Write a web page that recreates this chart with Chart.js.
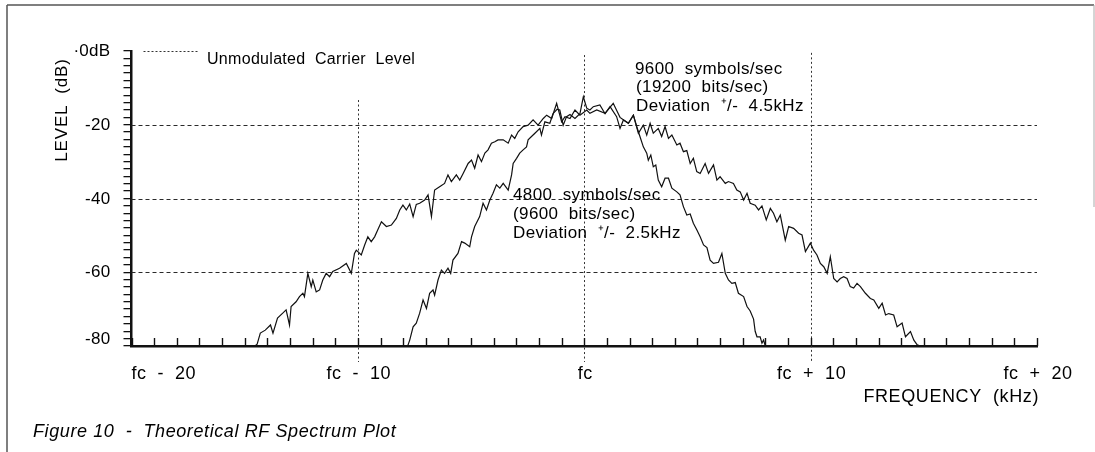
<!DOCTYPE html>
<html>
<head>
<meta charset="utf-8">
<script src="https://cdn.jsdelivr.net/npm/chart.js@4.4.1/dist/chart.umd.min.js"></script>
<style>
  html, body { margin: 0; padding: 0; background: #fff; }
  canvas { display: block; }
</style>
</head>
<body>
<canvas id="spectrum" width="1095" height="452"></canvas>
<script>
// axis ticks / labels
const FREQ_TICKS   = [-20, -10, 0, 10, 20];
const FREQ_LABELS  = ['fc  -  20', 'fc  -  10', 'fc', 'fc  +  10', 'fc  +  20'];
const LEVEL_TICKS  = [0, -20, -40, -60, -80];
const LEVEL_LABELS = ['·0dB', '-20', '-40', '-60', '-80'];
const GRID_LEVELS  = [-20, -40, -60];
const MARKER_FREQS = [-10, 0, 10];
const MARKER_TOPS  = [-13.3, -1.1, -0.5];   // dB level where each dotted marker starts

// 9600 symbols/sec, deviation +/- 4.5 kHz (offset from fc in kHz, level in dB)
const WIDE_FREQ = [
  -14.55, -14.45, -14.38, -14.31, -14.09, -13.86, -13.75, -13.55, -13.32, -13.17,
  -13.02, -12.95, -12.73, -12.58, -12.43, -12.36, -12.21, -12.06, -11.99, -11.84,
  -11.69, -11.55, -11.40, -11.25, -11.11, -10.81, -10.51, -10.29, -10.15, -10.07,
  -9.85, -9.70, -9.56, -9.41, -9.26, -9.12, -8.96, -8.74, -8.52, -8.30,
  -8.15, -8.01, -7.86, -7.71, -7.56, -7.42, -7.27, -7.05, -6.90, -6.75,
  -6.61, -6.39, -6.17, -6.02, -5.87, -5.65, -5.50, -5.35, -5.13, -4.98,
  -4.84, -4.69, -4.54, -4.39, -4.25, -4.10, -3.95, -3.81, -3.58, -3.36,
  -3.21, -3.07, -2.92, -2.70, -2.48, -2.26, -2.04, -1.81, -1.66, -1.44,
  -1.22, -1.00, -0.85, -0.63, -0.41, -0.19, 0.11, 0.25, 0.55, 0.92,
  1.28, 1.58, 1.95, 2.17, 2.39, 2.61, 2.76, 2.91, 3.05, 3.27,
  3.42, 3.57, 3.72, 3.87, 4.09, 4.23, 4.38, 4.53, 4.68, 4.82,
  4.97, 5.12, 5.34, 5.49, 5.71, 5.86, 6.00, 6.23, 6.37, 6.59,
  6.74, 6.89, 7.04, 7.19, 7.33, 7.55, 7.70, 7.85, 8.04, 8.22,
  8.36, 8.51, 8.66, 8.88, 9.03, 9.25, 9.47, 9.62, 9.77, 9.99,
  10.13, 10.28, 10.43, 10.58, 10.73, 10.87, 11.02, 11.17, 11.31, 11.46,
  11.61, 11.75, 11.90, 12.05, 12.20, 12.42, 12.64, 12.79, 13.01, 13.16,
  13.31, 13.45, 13.67, 13.82, 14.04, 14.19, 14.41, 14.56, 14.71, 14.85
];
const WIDE_LEVEL = [
  -80, -79.5, -78, -76.5, -75.7, -74.3, -76.5, -72.4, -71.1, -70.2,
  -74.3, -69.3, -68, -66.6, -65.7, -66.6, -60.3, -63.9, -62.1, -65.3,
  -64.8, -62.1, -60.3, -61.2, -59.8, -58.9, -57.6, -60.3, -54.9, -54,
  -55.3, -52.6, -50.4, -51.7, -50.4, -48.5, -46.3, -47.6, -47.2, -45.4,
  -43.1, -41.8, -43.1, -41.5, -44.9, -41.6, -41.3, -40.4, -39, -44.9,
  -37.7, -36.8, -35.9, -33.6, -35.4, -33.6, -35, -33.2, -30.5, -29.6,
  -31.8, -28.2, -30, -27.7, -26.8, -25, -24.6, -24.1, -24.1, -25,
  -22.8, -23.7, -21.9, -20.5, -20.1, -18.7, -20.1, -18.3, -17.4, -18.3,
  -14.2, -19.2, -17.8, -18.3, -16, -17.4, -16, -16.9, -16, -16.9,
  -14.2, -18, -19.6, -17.4, -22.3, -20.1, -22.8, -19.6, -22.3, -21,
  -23.2, -20.5, -23.7, -22.8, -25.5, -25, -27.3, -27, -30.5, -29.1,
  -32.7, -33.2, -30.5, -33.2, -30.9, -35, -34.1, -35.9, -35.4, -35.9,
  -37.7, -38.2, -40.4, -38.6, -41.3, -41.8, -43.1, -42, -45.8, -42.7,
  -44, -46.3, -44.5, -51.3, -47.6, -48.1, -49.4, -49.9, -54.4, -52.1,
  -54, -55.3, -57.6, -58.5, -60.3, -55.8, -61.7, -62.6, -61.7, -61.2,
  -61.7, -63.9, -64.3, -63, -63.9, -65.7, -67.1, -67.5, -69.8, -68.4,
  -71.6, -71.2, -71.6, -74.8, -73.8, -77.5, -76.1, -78.4, -79.7, -80
];

// 4800 symbols/sec, deviation +/- 2.5 kHz
const NARROW_FREQ = [
  -7.80, -7.71, -7.56, -7.42, -7.27, -7.12, -6.97, -6.83, -6.68, -6.61,
  -6.46, -6.31, -6.17, -6.02, -5.90, -5.80, -5.58, -5.42, -5.28, -5.06,
  -4.98, -4.84, -4.62, -4.47, -4.32, -4.17, -4.03, -3.88, -3.73, -3.58,
  -3.36, -3.21, -3.14, -2.99, -2.85, -2.70, -2.55, -2.48, -2.33, -2.18,
  -1.96, -1.89, -1.74, -1.52, -1.38, -1.20, -1.08, -0.93, -0.78, -0.63,
  -0.41, -0.19, -0.04, 0.11, 0.25, 0.40, 0.69, 0.92, 1.14, 1.43,
  1.58, 1.73, 1.95, 2.17, 2.32, 2.46, 2.61, 2.76, 2.83, 2.94,
  3.05, 3.16, 3.27, 3.42, 3.57, 3.72, 3.87, 4.09, 4.23, 4.38,
  4.53, 4.68, 4.82, 4.97, 5.12, 5.27, 5.42, 5.56, 5.71, 5.93,
  6.08, 6.23, 6.37, 6.52, 6.67, 6.81, 7.04, 7.19, 7.33, 7.48,
  7.55, 7.63, 7.77, 7.85, 7.92, 8.00
];
const NARROW_LEVEL = [
  -80, -78.4, -74.8, -73.8, -71.1, -67.5, -69.8, -65.7, -64.8, -66.2,
  -62.1, -59.4, -60.3, -58.9, -60.3, -56.7, -54.9, -51.7, -52.1, -53.1,
  -50.4, -47.6, -44.9, -41.3, -43.1, -40.4, -38.6, -36.3, -37.2, -35.9,
  -37.7, -33.6, -30.5, -29.1, -27.7, -26.8, -26, -24.1, -23.2, -22.3,
  -21, -22.8, -19.2, -19.6, -17, -15.8, -16, -20.1, -17.8, -17.2,
  -18.3, -17, -12.4, -15.5, -16, -15.1, -14.6, -17, -15.1, -17.8,
  -21, -18.7, -19.6, -17.4, -20.5, -23.2, -26, -27.7, -29.6, -28.2,
  -31.4, -30.9, -35, -36.8, -34.5, -34.5, -37.2, -38.2, -39, -42.2,
  -44.5, -44.2, -46.7, -48.5, -50.4, -52.6, -53.3, -56.7, -57.6, -57.3,
  -54.9, -60.3, -62.1, -63, -62.8, -65.7, -66.6, -69.3, -70.5, -72.7,
  -76, -77.5, -77.5, -79.2, -78.4, -80
];

const INK  = '#111';
const FONT = "'Liberation Sans', Arial, Helvetica, sans-serif";

function toPoints(xs, ys) {
  return xs.map((x, i) => ({ x, y: ys[i] }));
}

function drawText(ctx, s, x, y, font, align, spacing) {
  ctx.save();
  ctx.font = font;
  ctx.textAlign = align || 'left';
  ctx.textBaseline = 'middle';
  if ('letterSpacing' in ctx) ctx.letterSpacing = (spacing || 0) + 'px';
  ctx.fillStyle = '#000';
  ctx.fillText(s, x, y);
  ctx.restore();
}

function line(ctx, x1, y1, x2, y2) {
  ctx.beginPath();
  ctx.moveTo(x1, y1);
  ctx.lineTo(x2, y2);
  ctx.stroke();
}

const figureDecor = {
  id: 'figureDecor',
  beforeDatasetsDraw(chart) {
    const { ctx, chartArea: a, scales: { x, y } } = chart;
    ctx.save();
    // page frame
    ctx.strokeStyle = '#555';
    ctx.lineWidth = 1.5;
    line(ctx, 7, 5, 1094, 5);
    line(ctx, 7, 5, 7, 452);
    ctx.strokeStyle = '#aaa';
    ctx.lineWidth = 1;
    line(ctx, 1094, 5, 1094, 207);

    // dashed level grid
    ctx.strokeStyle = '#2a2a2a';
    ctx.lineWidth = 1;
    ctx.setLineDash([4, 3]);
    GRID_LEVELS.forEach(v => {
      const py = Math.round(y.getPixelForValue(v)) + 0.5;
      line(ctx, a.left, py, a.right, py);
    });

    // dotted frequency markers
    ctx.strokeStyle = '#333';
    ctx.setLineDash([2, 2.5]);
    MARKER_FREQS.forEach((f, i) => {
      const px = Math.round(x.getPixelForValue(f)) + 0.5;
      line(ctx, px, y.getPixelForValue(MARKER_TOPS[i]), px, a.bottom + 16);
    });

    // unmodulated carrier level marker
    ctx.setLineDash([2, 2]);
    const p0 = Math.round(y.getPixelForValue(0)) + 0.5;
    line(ctx, a.left + 12, p0, a.left + 67, p0);
    ctx.restore();
  },
  afterDraw(chart) {
    const { ctx, chartArea: a, scales: { x, y } } = chart;
    ctx.save();
    // inward minor ticks on the frequency axis
    ctx.strokeStyle = INK;
    ctx.lineWidth = 1.4;
    x.ticks.forEach(t => {
      const px = Math.round(x.getPixelForValue(t.value)) + 0.5;
      line(ctx, px, a.bottom, px, a.bottom - 8);
    });
    ctx.restore();

    // level labels
    LEVEL_TICKS.forEach((v, i) => {
      let py = y.getPixelForValue(v);
      if (v === y.min) py -= 7;
      drawText(ctx, LEVEL_LABELS[i], a.left - 21, py + 0.5, '17px ' + FONT, 'right', 0.3);
    });

    // frequency labels
    FREQ_TICKS.forEach((v, i) => {
      const px = x.getPixelForValue(v);
      const align = i === 0 ? 'left' : 'center';
      drawText(ctx, FREQ_LABELS[i], i === 0 ? px : px + 1, a.bottom + 28, '18px ' + FONT, align, 0.5);
    });

    // axis titles
    drawText(ctx, 'FREQUENCY  (kHz)', a.right + 2, a.bottom + 51, '18px ' + FONT, 'right', 0.6);
    ctx.save();
    ctx.translate(62, 110);
    ctx.rotate(-Math.PI / 2);
    drawText(ctx, 'LEVEL  (dB)', 0, 0, '17px ' + FONT, 'center', 0.8);
    ctx.restore();

    // annotations
    drawText(ctx, 'Unmodulated  Carrier  Level', 207, 60, '16px ' + FONT, 'left', 0.3);
    const f17 = '17px ' + FONT;
    drawText(ctx, '9600  symbols/sec', 635, 69, f17, 'left', 0.4);
    drawText(ctx, '(19200  bits/sec)', 636, 87.5, f17, 'left', 0.4);
    drawText(ctx, 'Deviation  \u207A/-  4.5kHz', 636, 106, f17, 'left', 0.4);
    drawText(ctx, '4800  symbols/sec', 513, 195.5, f17, 'left', 0.4);
    drawText(ctx, '(9600  bits/sec)', 513, 214.5, f17, 'left', 0.4);
    drawText(ctx, 'Deviation  \u207A/-  2.5kHz', 513, 233, f17, 'left', 0.4);

    // caption
    drawText(ctx, 'Figure 10  -  Theoretical RF Spectrum Plot', 33, 432, 'italic 18px ' + FONT, 'left', 0.6);
  }
};

const curveStyle = {
  borderColor: INK,
  borderWidth: 1.2,
  pointRadius: 0,
  tension: 0,
  fill: false
};

new Chart(document.getElementById('spectrum'), {
  type: 'line',
  data: {
    datasets: [
      { label: '9600 symbols/sec', data: toPoints(WIDE_FREQ, WIDE_LEVEL), ...curveStyle },
      { label: '4800 symbols/sec', data: toPoints(NARROW_FREQ, NARROW_LEVEL), ...curveStyle }
    ]
  },
  options: {
    responsive: false,
    animation: false,
    devicePixelRatio: 1,
    layout: { padding: { left: 131.5, right: 58, top: 51, bottom: 106 } },
    plugins: { legend: { display: false }, tooltip: { enabled: false } },
    scales: {
      x: {
        type: 'linear', min: -20, max: 20,
        ticks: { display: false, stepSize: 1, maxTicksLimit: 100 },
        grid: { display: false },
        border: { display: true, color: INK, width: 2.5 },
        afterFit: s => { s.height = 0; }
      },
      y: {
        min: -80, max: 0,
        ticks: { display: false, stepSize: 2, maxTicksLimit: 100 },
        grid: { drawOnChartArea: false, drawTicks: true, tickLength: 8, color: INK, lineWidth: 1.3 },
        border: { display: true, color: INK, width: 2.5 },
        afterFit: s => { s.width = 0; }
      }
    }
  },
  plugins: [figureDecor]
});
</script>
</body>
</html>
